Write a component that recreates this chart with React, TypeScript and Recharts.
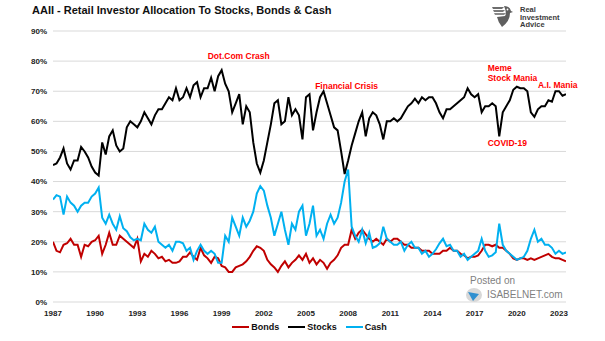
import { LineChart, Line, XAxis, YAxis, CartesianGrid, ReferenceDot } from "recharts";

// quarterly readings, first point = Q4 1987
const START = 1987.75;
const STEP = 0.25;

const stocks = [
  45.5, 46, 48, 51, 46, 44, 47, 47, 51.5, 50,
  48, 45, 43, 42, 53, 49, 55, 57, 52, 50,
  51, 58, 60, 59, 58, 60, 63, 61, 59, 62,
  64, 64, 66, 68, 67, 71, 67, 68, 71, 68,
  72, 73, 68, 71, 71, 74.5, 70, 75, 77, 72.5,
  70, 63, 66, 69, 59, 65, 63, 53, 46, 43,
  47, 53, 59, 66, 67, 59, 60, 68, 62, 64,
  62, 54, 68, 69, 57, 63, 68, 70, 66, 62,
  58, 57, 50, 42.5, 47, 52, 56, 60, 63, 55,
  61, 63, 62, 59, 54, 60, 60, 61, 60, 61,
  63, 65, 66, 67.5, 66, 68, 67, 68, 68, 66,
  63, 61, 64, 64, 65, 66, 67, 68, 71, 69,
  68, 69, 63, 65, 65, 66, 65, 55, 63, 65,
  67, 70.5, 71.5, 71, 71, 70, 63, 61.5, 64, 65,
  65, 67, 66.5, 70, 70, 68.5, 69,
];

const bonds = [
  20, 17, 16.5, 19, 19.5, 21, 19, 19, 15, 19,
  18.5, 20, 20.5, 22, 16, 19, 23, 19, 19, 22,
  21, 20, 19, 18, 21, 13.5, 16, 15, 17, 16,
  14.5, 15, 13.5, 14, 13, 13, 13.5, 15, 15, 16.5,
  15, 14, 18, 15.5, 14.5, 13, 15, 14.5, 12, 11.5,
  10, 10, 11.5, 12, 12.5, 13.5, 15, 17, 18.5, 18,
  17, 14, 12.5, 11.5, 10, 12, 13.5, 11.5, 13, 14,
  15.5, 14, 16, 13, 14.5, 12.5, 14, 13, 11, 13,
  14, 15.5, 18, 19, 19, 24, 21, 23, 24, 22.5,
  21, 20, 21, 20, 19, 21, 20, 21, 21, 20,
  19, 19, 18, 18, 18, 17, 17, 17, 16, 16,
  16, 17, 17, 18, 17, 17, 16, 15.5, 14.5, 15,
  15, 15.5, 17, 19, 19, 18.5, 19, 18, 18, 17,
  16, 14.5, 14, 14.5, 14.5, 14, 14.5, 14, 14.5, 15,
  15.5, 16, 15, 14.5, 14.5, 14, 13.5,
];

const cash = [
  34, 35.5, 35, 29, 35, 33, 32, 30, 32, 33,
  33, 35, 36, 38, 28, 26, 29, 26, 24, 28.5,
  24.5, 23.5, 21.5, 20.5, 21, 20.5, 26, 24, 23, 25,
  20, 19, 18, 19, 17, 20, 20, 19.5, 17, 18,
  14, 17, 19, 17, 16, 17, 16, 13, 13, 22,
  20, 28, 25, 22, 28, 25, 27, 30, 36, 38.5,
  37, 32, 28, 22, 26, 30, 24, 19, 26, 24,
  30, 32, 22, 26, 32, 22, 24, 21, 26, 29,
  26, 28, 33, 40, 44, 25, 22, 20, 24, 19.5,
  23, 18, 18.5, 19.5, 25, 21, 20, 19, 19, 20,
  17, 19, 20, 18, 18, 16, 17, 15, 16, 17.5,
  19.5, 21, 18.5, 19, 17, 17, 15, 16, 14, 15,
  16, 17, 21, 17, 15, 15.5, 16.5, 26, 19, 17,
  16, 15, 14, 14.5, 15, 17, 21, 24, 20, 21,
  19, 19, 18, 16, 17, 16, 16.5,
];

const tickYears = [1987, 1990, 1993, 1996, 1999, 2002, 2005, 2008, 2011, 2014, 2017, 2020, 2023];
const yTicks = [0, 10, 20, 30, 40, 50, 60, 70, 80, 90];

const series = [
  { key: "bonds", name: "Bonds", color: "#c00000" },
  { key: "stocks", name: "Stocks", color: "#000000" },
  { key: "cash", name: "Cash", color: "#00b0f0" },
];

// annotations, placed in data units (year, percent)
const notes = [
  { text: "Dot.Com Crash", t: 2000.96, v: 81.6, pos: "center" },
  { text: "Financial Crisis", t: 2008.64, v: 71.9, pos: "center" },
  { text: "Meme", t: 2018.68, v: 77.6, pos: "right" },
  { text: "Stock Mania", t: 2018.68, v: 74.3, pos: "right" },
  { text: "A.I. Mania", t: 2022.25, v: 72.1, pos: "right" },
  { text: "COVID-19", t: 2018.68, v: 52.7, pos: "right" },
];

const data = stocks.map((s, i) => ({
  t: START + i * STEP,
  stocks: s,
  bonds: bonds[i],
  cash: cash[i],
}));

const FONT = "'Liberation Sans', Arial, Helvetica, sans-serif";

function Logo() {
  return (
    <div style={{ position: "absolute", left: 490, top: 4, display: "flex", alignItems: "flex-start" }}>
      <svg width={24} height={24} viewBox="0 0 24 24">
        <path d="M2 3 L14 3 L12 5 L3 5 Z" fill="#6d6d6d" />
        <path d="M3 6 L15 6 L13 8 L4 8 Z" fill="#7a7a7a" />
        <path d="M4 9 L16 9 L14 11 L5 11 Z" fill="#888" />
        <path d="M14 2 Q20 2 21 7 L23 8 L20 9 Q20 17 12 23 Q8 18 7 13 L15 12 Q17 9 14 2 Z" fill="#5f5f5f" />
        <circle cx={17.5} cy={5.5} r={0.9} fill="#fff" />
      </svg>
      <div style={{ marginLeft: 6, marginTop: 2, fontSize: 7.5, lineHeight: "7.5px", fontWeight: 700, color: "#3a3a3a" }}>
        <div>Real</div>
        <div>Investment</div>
        <div>Advice</div>
      </div>
    </div>
  );
}

function Watermark() {
  return (
    <div style={{ position: "absolute", left: 464, top: 275, color: "#7f7f7f", fontSize: 10 }}>
      <div style={{ marginLeft: 6, lineHeight: "11px" }}>Posted on</div>
      <div style={{ display: "flex", alignItems: "center" }}>
        <svg width={20} height={16} viewBox="0 0 20 16">
          <ellipse cx={10} cy={9} rx={8} ry={7} fill="#d8d8d8" />
          <path d="M4 6 L15 8 L9 15 Z" fill="#2f8fd0" />
        </svg>
        <span style={{ marginLeft: 3, lineHeight: "11px" }}>ISABELNET.com</span>
      </div>
    </div>
  );
}

export default function App() {
  return (
    <div
      style={{
        position: "absolute",
        left: 0,
        top: 0,
        width: 605,
        height: 341,
        background: "#fff",
        fontFamily: FONT,
        overflow: "hidden",
      }}
    >
      <div style={{ position: "absolute", left: 32, top: 4, fontSize: 11, fontWeight: 700, color: "#111" }}>
        AAII - Retail Investor Allocation To Stocks, Bonds &amp; Cash
      </div>
      <Logo />

      <LineChart width={605} height={341} data={data} margin={{ top: 31, right: 39, bottom: 25, left: 0 }}>
        <CartesianGrid vertical={false} stroke="#d9d9d9" strokeWidth={1} />
        <XAxis
          dataKey="t"
          type="number"
          domain={[START, START + (stocks.length - 1) * STEP]}
          ticks={tickYears.map((y) => y + 0.75)}
          tickFormatter={(v: number) => String(Math.floor(v))}
          tick={{ fill: "#222", fontSize: 8, fontWeight: 700, fontFamily: "'Liberation Sans Narrow', " + FONT }}
          axisLine={false}
          tickLine={false}
          tickSize={6}
          tickMargin={2}
          height={14}
          allowDataOverflow
        />
        <YAxis
          domain={[0, 90]}
          ticks={yTicks}
          tickFormatter={(v: number) => `${v}%`}
          tick={{ fill: "#222", fontSize: 8, fontWeight: 700, fontFamily: FONT }}
          axisLine={false}
          tickLine={false}
          tickSize={4}
          tickMargin={2}
          width={53}
        />
        {series.map((s) => (
          <Line
            key={s.key}
            type="linear"
            dataKey={s.key}
            stroke={s.color}
            strokeWidth={2}
            dot={false}
            isAnimationActive={false}
          />
        ))}
        {notes.map((n) => (
          <ReferenceDot
            key={n.text}
            x={n.t}
            y={n.v}
            r={0}
            stroke="none"
            fill="none"
            label={{
              value: n.text,
              position: n.pos as "center" | "right",
              offset: 0,
              fill: "#ff0000",
              fontSize: 8.5,
              fontWeight: 700,
              fontFamily: FONT,
            }}
          />
        ))}
      </LineChart>

      <Watermark />

      <div
        style={{
          position: "absolute",
          left: 53,
          width: 513,
          top: 322,
          display: "flex",
          justifyContent: "center",
          gap: 9,
          fontSize: 9,
          fontWeight: 700,
          color: "#111",
        }}
      >
        {series.map((s) => (
          <div key={s.key} style={{ display: "flex", alignItems: "center" }}>
            <span style={{ display: "inline-block", width: 17, height: 2, background: s.color, marginRight: 2 }} />
            {s.name}
          </div>
        ))}
      </div>
    </div>
  );
}
